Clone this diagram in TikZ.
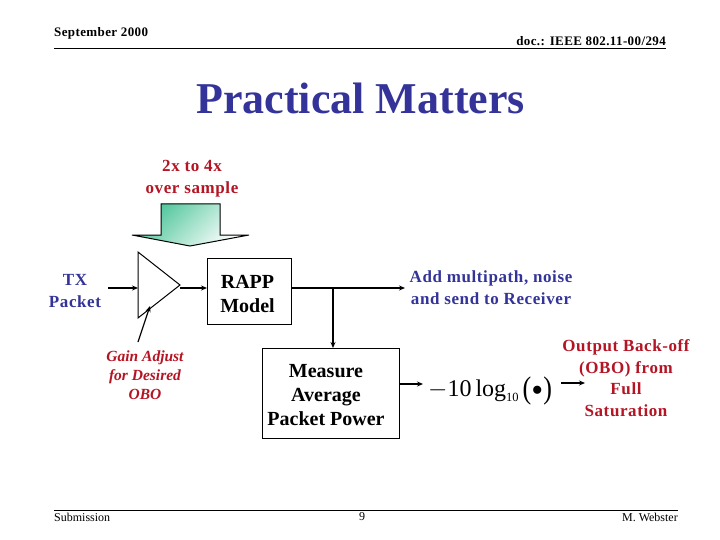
\documentclass[tikz,border=0pt]{standalone}
\usepackage{fontspec}
\usepackage{graphicx}
\setmainfont{Liberation Serif}
\usetikzlibrary{arrows.meta}
\definecolor{tblue}{RGB}{51,51,153}
\definecolor{tred}{RGB}{180,20,35}
\definecolor{tgreen}{RGB}{70,195,150}
\newcommand{\spc}{\addfontfeatures{LetterSpace=3.5}}
\tikzset{
 x=1pt,y=-1pt,
 boxn/.style={draw=black,line width=1pt,fill=white,align=center,font=\fontsize{20}{24}\selectfont\bfseries,inner sep=0pt,anchor=north west},
 lab/.style={align=center,inner sep=0pt,font=\fontsize{17}{21.7}\selectfont\bfseries\spc},
 small/.style={inner sep=0pt,font=\fontsize{12}{14}\selectfont},
 smallb/.style={inner sep=0pt,font=\fontsize{13}{14}\selectfont\bfseries\addfontfeatures{LetterSpace=3}},
 wire/.style={line width=1.4pt,-{Stealth[length=6pt,width=5pt]}},
}
\begin{document}
\begin{tikzpicture}
\useasboundingbox (0,0) rectangle (720,540);
\node[smallb,anchor=west] (date) at (54,33) {September 2000};
\node[smallb,anchor=east] (doc) at (666,41) {doc.: IEEE 802.11-00/294};
\coordinate (hl) at (54,48); \coordinate (hr) at (666,48);
\draw[line width=.8pt] (hl) -- (hr);
\node[inner sep=0pt,text=tblue,font=\fontsize{44}{50}\selectfont\bfseries] (title) at (360.5,98) {Practical Matters};
\node[lab,text=tred] (over) at (192,179) {2x to 4x\\over sample};
\shade[left color=tgreen,right color=white,shading angle=45,draw=none] (161,204) -- (220,204) -- (220,235) -- (249,235) -- (190,246) -- (132,235) -- (161,235) -- cycle;
\draw[line width=1pt] (161,235) -- (161,204) -- (220,204) -- (220,235) -- (249,235) -- (190,246) -- (132,235) -- cycle;
\node[lab,text=tblue] (tx) at (75,291) {TX\\Packet};
\coordinate (txend) at (108,288);
\coordinate (a1) at (138,252); \coordinate (a2) at (180,285); \coordinate (a3) at (138,318);
\coordinate (ain) at (138,288); \coordinate (aout) at (180,288);
\draw[line width=1pt] (a1) -- (a2) -- (a3) -- cycle;
\node[boxn,minimum width=84pt,minimum height=66pt] (rapp) at (207,258) {\rule{0pt}{19pt}RAPP\hspace*{4pt}\\Model\hspace*{4pt}};
\node[boxn,align=none,minimum width=137pt,minimum height=90pt] (meas) at (262,348) {\hspace*{-10pt}\raisebox{-8pt}[0pt][0pt]{\begin{tabular}{@{}c@{}}Measure\\Average\\Packet Power\end{tabular}}};
\draw[wire] (txend) -- (ain);
\draw[wire] (aout) -- (rapp.west|-aout);
\coordinate (out) at (405,288);
\draw[wire] (rapp.east|-out) -- (out);
\coordinate (jn) at (333,288);
\draw[wire] (jn) -- (jn|-meas.north);
\coordinate (gs) at (138,342); \coordinate (ge) at (150,306);
\draw[line width=1.2pt,-{Stealth[length=6pt,width=5pt]}] (gs) -- (ge);
\node[lab,text=tblue] (add) at (491,288) {Add multipath, noise\\and send to Receiver};
\node[lab,text=tred,font=\fontsize{15.5}{19}\selectfont\bfseries\itshape] (gain) at (145,375) {Gain Adjust\\for Desired\\OBO};
\node[inner sep=0pt,anchor=base west,font=\fontsize{24}{28}\selectfont] (fm) at (428,396) {$-$10\,log\raisebox{-5pt}{\fontsize{12.5}{12}\selectfont 10}\,\raisebox{-2pt}[0pt][0pt]{\scalebox{1}[1.2]{\fontsize{26}{26}\selectfont (}}\raisebox{-5pt}[0pt][0pt]{\fontsize{34}{34}\selectfont\textbullet}\raisebox{-2pt}[0pt][0pt]{\scalebox{1}[1.2]{\fontsize{26}{26}\selectfont )}}};
\coordinate (ms) at (399,384); \coordinate (me) at (423,384);
\draw[wire] (ms) -- (me);
\coordinate (os) at (561,383); \coordinate (oe) at (585,383);
\draw[wire] (os) -- (oe);
\node[lab,text=tred] (obo) at (626,378) {Output Back-off\\(OBO) from\\Full\\Saturation};
\coordinate (fl) at (54,510); \coordinate (fr) at (678,510);
\draw[line width=.8pt] (fl) -- (fr);
\node[small,anchor=west] (sub) at (54,517) {Submission};
\node[small] (pg) at (362,517) {9};
\node[small,anchor=east] (web) at (678,517) {M. Webster};
\end{tikzpicture}
\end{document}
